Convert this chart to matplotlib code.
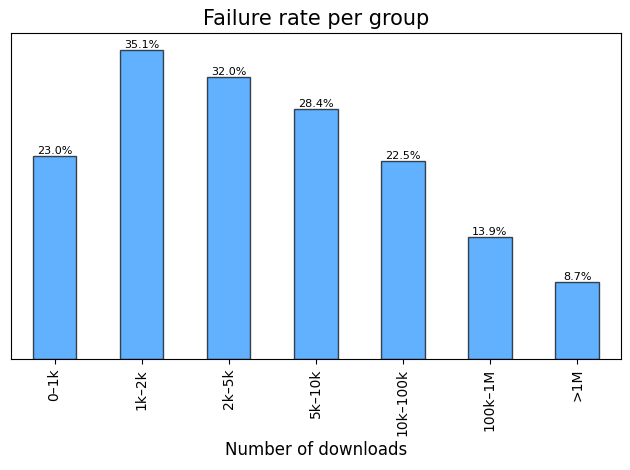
import matplotlib
matplotlib.use("Agg")
import matplotlib.pyplot as plt
import numpy as np

groups = ["0\u20131k", "1k\u20132k", "2k\u20135k", "5k\u201310k", "10k\u2013100k", "100k\u20131M", ">1M"]
rates = [23.0, 35.1, 32.0, 28.4, 22.5, 13.9, 8.7]

fig, ax = plt.subplots(figsize=(6.3, 4.7), dpi=100)
x = np.arange(len(groups))
bars = ax.bar(x, rates, width=0.5, color="dodgerblue", alpha=0.7, edgecolor="black")
for b, r in zip(bars, rates):
    ax.text(b.get_x() + b.get_width() / 2, b.get_height(), f"{r:.1f}%",
            ha="center", va="bottom", fontsize=8)
ax.set_xticks(x)
ax.set_xticklabels(groups, rotation=90)
ax.set_xlim(-0.5, len(groups) - 0.5)
ax.set_ylim(0, max(rates) * 1.055)
ax.set_yticks([])
ax.set_xlabel("Number of downloads", fontsize=12)
ax.set_title("Failure rate per group", fontsize=15)
fig.subplots_adjust(left=0.0175, right=0.985, top=0.93, bottom=0.236)
fig.savefig("out.png")
